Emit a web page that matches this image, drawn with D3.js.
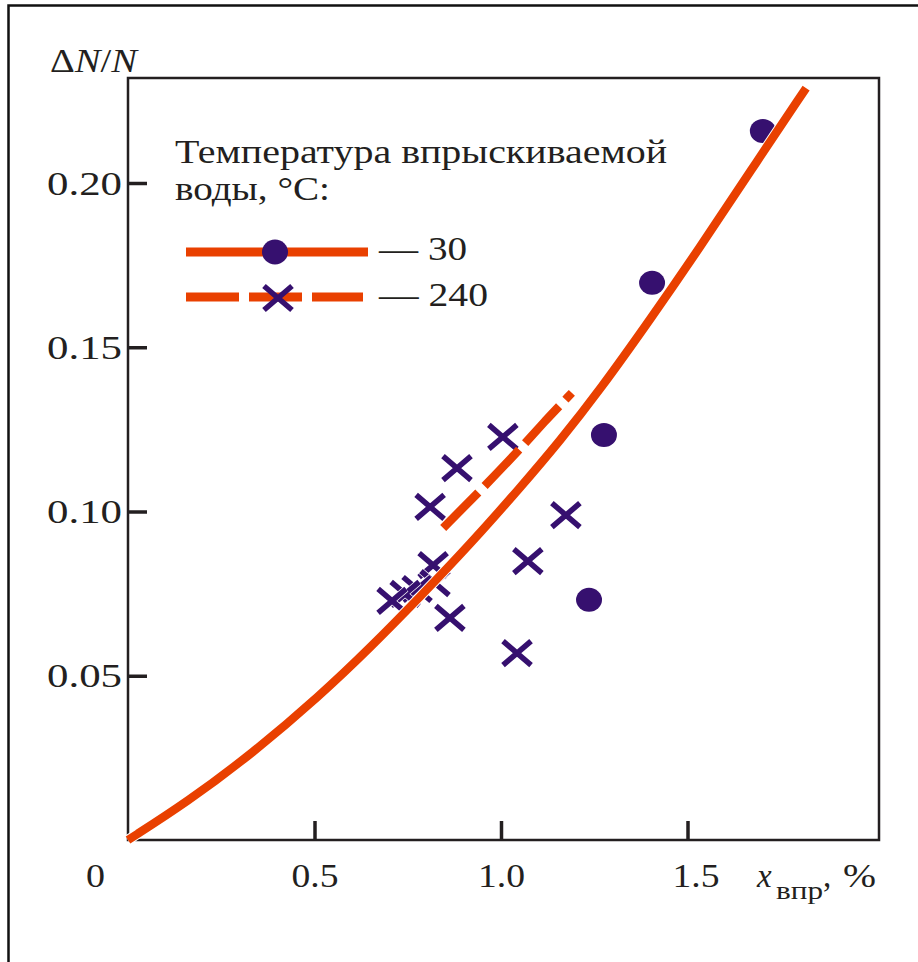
<!DOCTYPE html>
<html><head><meta charset="utf-8">
<script src="https://cdn.jsdelivr.net/npm/d3@7/dist/d3.min.js"></script>
<style>body{margin:0;background:#fff}svg{display:block}</style>
</head><body>
<svg id="c" width="918" height="962"></svg>
<script>
// ---- data ----
const xTicks = [0, 0.5, 1.0, 1.5];
const xTickLabels = ["0", "0.5", "1.0", "1.5"];
const yTicks = [0.05, 0.10, 0.15, 0.20];
const yTickLabels = ["0.05", "0.10", "0.15", "0.20"];

// fitted curve, 30 °C (solid)
const curve30X = [0, 0.158, 0.335, 0.515, 0.649, 0.783, 0.917, 1.051, 1.158, 1.265, 1.399, 1.534, 1.668, 1.818];
const curve30Y = [0, 0.0115, 0.0265, 0.0440, 0.0585, 0.0740, 0.0900, 0.1072, 0.1215, 0.1370, 0.1583, 0.1805, 0.2035, 0.2289];
// fitted curve, 240 °C (dashed)
const curve240X = [0.845, 0.944, 1.051, 1.118, 1.190];
const curve240Y = [0.0950, 0.1063, 0.1190, 0.1276, 0.1361];
// measured points, 30 °C (circles)
const pts30X = [1.702, 1.405, 1.276, 1.236];
const pts30Y = [0.2158, 0.1696, 0.1233, 0.0731];
// measured points, 240 °C (crosses)
const pts240X = [1.005, 0.882, 0.810, 1.174, 1.072, 0.818, 0.823, 0.775, 0.743, 0.708, 0.863, 1.043];
const pts240Y = [0.1227, 0.1132, 0.1014, 0.0989, 0.0849, 0.0837, 0.0782, 0.0764, 0.0749, 0.0728, 0.0676, 0.0569];

const legendTitle = ["Температура впрыскиваемой", "воды, °C:"];
const seriesLabels = ["— 30", "— 240"];
const yTitle = ["Δ", "N", "/", "N"];
const xTitle = ["x", "впр", ",", "%"];

// ---- style ----
const ORANGE = "#E94000", PURPLE = "#36106F", INK = "#231F20";
const FONT = "'Liberation Serif','Times New Roman',serif";

const svg = d3.select("#c");
const L = 128, R = 879, T = 78, B = 840;
const x = d3.scaleLinear().domain([0, (R - L) / 373]).range([L, R]);
const y = d3.scaleLinear().domain([0, (B - T) / 3285]).range([B, T]);

// outer frame
svg.append("path").attr("d", "M8.5,970V5.5H930").attr("fill", "none").attr("stroke", "#111").attr("stroke-width", 2.5);

// plot frame
svg.append("rect").attr("x", L).attr("y", T).attr("width", R - L).attr("height", B - T)
  .attr("fill", "none").attr("stroke", INK).attr("stroke-width", 2.5);

// axes
const yAxis = svg.append("g").attr("transform", `translate(${L},0)`)
  .call(d3.axisLeft(y).tickValues(yTicks).tickFormat((d, i) => yTickLabels[i]).tickSize(-19).tickPadding(6));
yAxis.select(".domain").remove();
yAxis.selectAll(".tick line").attr("stroke", INK).attr("stroke-width", 3.5);
yAxis.selectAll(".tick text").attr("font-family", FONT).attr("font-size", 33).attr("fill", INK)
  .attr("x", -6).attr("dy", "0.34em").attr("textLength", 75).attr("lengthAdjust", "spacingAndGlyphs");

const xAxis = svg.append("g").attr("transform", `translate(0,${B})`)
  .call(d3.axisBottom(x).tickValues(xTicks).tickFormat((d, i) => xTickLabels[i]).tickSize(-19).tickPadding(6));
xAxis.select(".domain").remove();
xAxis.selectAll(".tick line").attr("stroke", INK).attr("stroke-width", 3.5)
  .attr("opacity", d => d === 0 ? 0 : 1);
xAxis.selectAll(".tick text").attr("font-family", FONT).attr("font-size", 33).attr("fill", INK)
  .attr("y", 47).attr("dy", 0)
  .attr("x", d => d === 0 ? -33 : (d === 1.5 ? 8 : 0))
  .attr("textLength", d => d === 0 ? 19 : 47).attr("lengthAdjust", "spacingAndGlyphs");

// axis titles
const yt = svg.append("text").attr("x", 50).attr("y", 72).attr("font-family", FONT).attr("font-size", 33)
  .attr("fill", INK).attr("textLength", 87).attr("lengthAdjust", "spacingAndGlyphs");
yTitle.forEach((s, i) => yt.append("tspan").text(s).attr("font-style", i % 2 ? "italic" : "normal"));

svg.append("text").attr("x", 757).attr("y", 887).attr("font-family", FONT).attr("font-size", 33)
  .attr("font-style", "italic").attr("fill", INK).text(xTitle[0]);
svg.append("text").attr("x", 776).attr("y", 899).attr("font-family", FONT).attr("font-size", 26)
  .attr("fill", INK).attr("textLength", 47).attr("lengthAdjust", "spacingAndGlyphs").text(xTitle[1]);
svg.append("text").attr("x", 823).attr("y", 887).attr("font-family", FONT).attr("font-size", 33)
  .attr("fill", INK).text(xTitle[2]);
svg.append("text").attr("x", 843).attr("y", 887).attr("font-family", FONT).attr("font-size", 33)
  .attr("fill", INK).attr("textLength", 33).attr("lengthAdjust", "spacingAndGlyphs").text(xTitle[3]);

// markers
const crossPath = "M-14,-12L14,12M-14,12L14,-12";
const p240 = pts240X.map((v, i) => [v, pts240Y[i]]);
const cg = svg.append("g");
p240.forEach(d => {
  const g = cg.append("g").attr("transform", `translate(${x(d[0])},${y(d[1])})`);
  g.append("path").attr("d", crossPath).attr("stroke", "#fff").attr("stroke-width", 7).attr("fill", "none");
  g.append("path").attr("d", crossPath).attr("stroke", PURPLE).attr("stroke-width", 5.5).attr("fill", "none");
});
svg.append("g").selectAll("ellipse").data(pts30X.map((v, i) => [v, pts30Y[i]])).join("ellipse")
  .attr("cx", d => x(d[0])).attr("cy", d => y(d[1])).attr("rx", 13).attr("ry", 12).attr("fill", PURPLE);

// curves
const line = d3.line().x(d => x(d[0])).y(d => y(d[1])).curve(d3.curveBasis);
const c30 = curve30X.map((v, i) => [v, curve30Y[i]]);
const c240 = curve240X.map((v, i) => [v, curve240Y[i]]);
svg.append("path").attr("d", line(c30)).attr("fill", "none").attr("stroke", "#fff").attr("stroke-width", 10.5);
svg.append("path").attr("d", line(c30)).attr("fill", "none").attr("stroke", ORANGE).attr("stroke-width", 8.5);
svg.append("path").attr("d", line(c240)).attr("fill", "none").attr("stroke", ORANGE).attr("stroke-width", 8.5)
  .attr("stroke-dasharray", "50,9");

// legend
legendTitle.forEach((s, i) => svg.append("text").attr("x", 175).attr("y", 163 + i * 37)
  .attr("font-family", FONT).attr("font-size", 33).attr("fill", INK)
  .attr("textLength", i === 0 ? 492 : 155).attr("lengthAdjust", "spacingAndGlyphs").text(s));

svg.append("line").attr("x1", 186).attr("x2", 368).attr("y1", 252).attr("y2", 252)
  .attr("stroke", ORANGE).attr("stroke-width", 9);
svg.append("ellipse").attr("cx", 275).attr("cy", 252).attr("rx", 13).attr("ry", 12.5).attr("fill", PURPLE);
svg.append("line").attr("x1", 186).attr("x2", 363).attr("y1", 297).attr("y2", 297)
  .attr("stroke", ORANGE).attr("stroke-width", 9).attr("stroke-dasharray", "53,10");
svg.append("path").attr("d", crossPath).attr("transform", "translate(278,298)")
  .attr("stroke", PURPLE).attr("stroke-width", 5.5).attr("fill", "none");
seriesLabels.forEach((s, i) => svg.append("text").attr("x", 379).attr("y", 260 + i * 46)
  .attr("font-family", FONT).attr("font-size", 33).attr("fill", INK)
  .attr("textLength", i === 0 ? 88 : 109).attr("lengthAdjust", "spacingAndGlyphs").text(s));
</script>
</body></html>
